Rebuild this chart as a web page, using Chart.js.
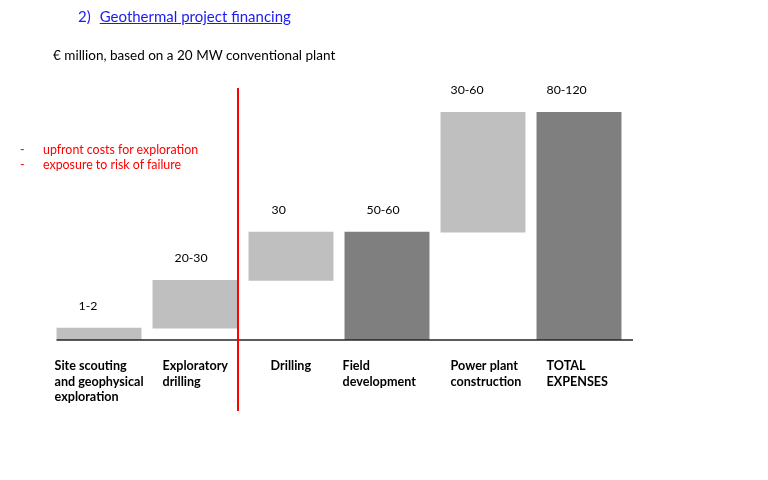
<!DOCTYPE html>
<html>
<head>
<meta charset="utf-8">
<script src="https://cdn.jsdelivr.net/npm/chart.js@4"></script>
<style>
    body { margin: 0; background: #fff; font-family: Lato, 'Open Sans', sans-serif; }
    .page { position: relative; width: 768px; height: 480px; overflow: hidden; }
    canvas { position: absolute; left: 0; top: 0; }
    .title { position: absolute; left: 78px; top: 7px; font-size: 15px; color: #1c1cf0; }
    .title span { margin-left: 9px; text-decoration: underline; }
    .subtitle { position: absolute; left: 53px; top: 47px; font-size: 13.5px; color: #000; }
    .risks { position: absolute; left: 20px; top: 142px; font-size: 12.4px; color: #ff0000; line-height: 15px; }
    .risks div span { display: inline-block; width: 23px; }
</style>
</head>
<body>
<div class="page">
    <canvas id="waterfall" width="768" height="480"></canvas>
    <div class="title">2)<span>Geothermal project financing</span></div>
    <div class="subtitle">€ million, based on a 20 MW conventional plant</div>
    <div class="risks">
        <div><span>-</span>upfront costs for exploration</div>
        <div><span>-</span>exposure to risk of failure</div>
    </div>
</div>
<script>
// Steps of the waterfall (floating bars: bottom / top, drawn height in chart units)
const categories = [
    ['Site scouting', 'and geophysical', 'exploration'],
    ['Exploratory', 'drilling'],
    ['Drilling'],
    ['Field', 'development'],
    ['Power plant', 'construction'],
    ['TOTAL', 'EXPENSES']
];
const barBottoms = [0, 5, 26, 0, 47.2, 0];
const barTops = [5.4, 26.3, 47.5, 47.5, 100, 100];
const rangeLabels = ['1-2', '20-30', '30', '50-60', '30-60', '80-120'];
const isSubtotal = [false, false, false, true, false, true];

const lightGray = '#bfbfbf';
const darkGray = '#7f7f7f';
// where the range text starts, measured from the bar's left edge
const labelInset = [22, 22, 23, 22, 10, 10];
// where the category text starts, measured from the bar's left edge
const catInset = [-2, 10, 22, -2, 10, 10];

const waterfallDecor = {
    id: 'waterfallDecor',
    afterDatasetsDraw(chart) {
        const ctx = chart.ctx;
        const x = chart.scales.x;
        const y = chart.scales.y;
        const meta = chart.getDatasetMeta(0);
        const base = y.getPixelForValue(0);

        ctx.save();
        // baseline
        ctx.strokeStyle = '#262626';
        ctx.lineWidth = 1.5;
        ctx.beginPath();
        ctx.moveTo(meta.data[0].x - meta.data[0].width / 2, base);
        ctx.lineTo(x.right + 6, base);
        ctx.stroke();

        // range labels above bars
        ctx.fillStyle = '#000';
        ctx.font = '12.3px Lato, "Open Sans", sans-serif';
        ctx.textAlign = 'left';
        ctx.textBaseline = 'middle';
        meta.data.forEach((bar, i) => {
            const left = bar.x - bar.width / 2;
            ctx.fillText(rangeLabels[i], left + labelInset[i], y.getPixelForValue(barTops[i]) - 22);
        });

        // category labels under the bars
        ctx.font = 'bold 12.6px Lato, "Open Sans", sans-serif';
        meta.data.forEach((bar, i) => {
            const left = bar.x - bar.width / 2;
            categories[i].forEach((line, j) => {
                ctx.fillText(line, left + catInset[i], base + 26 + j * 15.7);
            });
        });

        // red divider between exploration and development phases
        const divX = (meta.data[1].x + meta.data[1].width / 2 + meta.data[2].x - meta.data[2].width / 2) / 2 - 5;
        ctx.strokeStyle = '#ff0000';
        ctx.lineWidth = 2;
        ctx.beginPath();
        ctx.moveTo(divX, 88);
        ctx.lineTo(divX, 411);
        ctx.stroke();
        ctx.restore();
    }
};

new Chart(document.getElementById('waterfall'), {
    type: 'bar',
    data: {
        labels: categories,
        datasets: [{
            data: barBottoms.map((b, i) => [b, barTops[i]]),
            backgroundColor: isSubtotal.map(s => s ? darkGray : lightGray),
            borderWidth: 0,
            barPercentage: 0.885,
            categoryPercentage: 1
        }]
    },
    options: {
        responsive: false,
        animation: false,
        events: [],
        layout: { padding: { left: 51, right: 141, top: 112, bottom: 140 } },
        plugins: { legend: { display: false }, tooltip: { enabled: false } },
        scales: {
            x: { display: false },
            y: { display: false, min: 0, max: 100 }
        }
    },
    plugins: [waterfallDecor]
});
</script>
</body>
</html>
